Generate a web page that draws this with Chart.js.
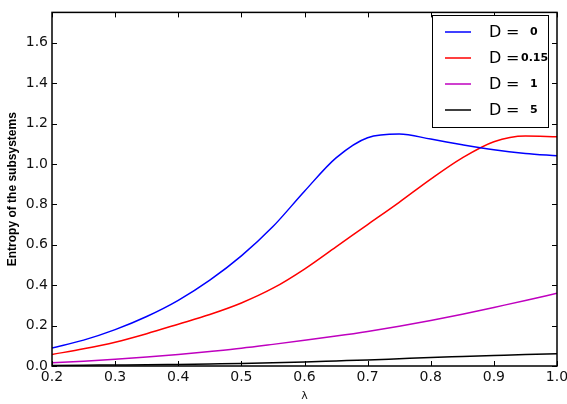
<!DOCTYPE html>
<html lang="en">
<head>
  <meta charset="UTF-8" />
  <title>Entropy of the subsystems</title>
  <script src="https://cdn.jsdelivr.net/npm/chart.js"></script>
  <style>
    body { margin: 0; background: white; }
    #wrap { width: 567px; height: 404px; }
  </style>
</head>
<body>
  <div id="wrap"><canvas id="chart"></canvas></div>

  <script>
    const lambdas = [0.2, 0.25, 0.3, 0.35, 0.4, 0.45, 0.5, 0.55, 0.6, 0.65, 0.7, 0.75, 0.8, 0.85, 0.9, 0.95, 1.0];
    const d0    = [0.089, 0.128, 0.18, 0.245, 0.325, 0.425, 0.545, 0.69, 0.865, 1.03, 1.13, 1.148, 1.123, 1.095, 1.07, 1.052, 1.04];
    const d015  = [0.057, 0.085, 0.118, 0.16, 0.207, 0.255, 0.312, 0.385, 0.48, 0.59, 0.70, 0.81, 0.925, 1.03, 1.11, 1.138, 1.135];
    const d1    = [0.016, 0.024, 0.033, 0.044, 0.057, 0.072, 0.088, 0.107, 0.127, 0.148, 0.171, 0.197, 0.225, 0.256, 0.29, 0.324, 0.36];
    const d5    = [0.003, 0.004, 0.005, 0.006, 0.008, 0.01, 0.012, 0.016, 0.02, 0.025, 0.03, 0.036, 0.042, 0.047, 0.052, 0.057, 0.061];
    const seriesNames = ['0', '0.15', '1', '5'];
    const seriesColors = ['#0000ff', '#ff0000', '#bf00bf', '#000000'];
    const xTicks = [0.2, 0.3, 0.4, 0.5, 0.6, 0.7, 0.8, 0.9, 1.0];
    const yTicks = [0.0, 0.2, 0.4, 0.6, 0.8, 1.0, 1.2, 1.4, 1.6];

    const tickFont = { family: 'DejaVu Sans', size: 14 };

    // matplotlib-like frame with inward ticks on all four sides
    const framePlugin = {
      id: 'frame',
      afterDatasetsDraw(chart) {
        const { ctx, chartArea: a, scales } = chart;
        ctx.save();
        ctx.strokeStyle = '#000';
        ctx.lineWidth = 1;
        const len = 5;
        ctx.beginPath();
        xTicks.forEach(v => {
          const px = Math.round(scales.x.getPixelForValue(v)) + 0.5;
          ctx.moveTo(px, a.bottom); ctx.lineTo(px, a.bottom - len);
          ctx.moveTo(px, a.top); ctx.lineTo(px, a.top + len);
        });
        yTicks.forEach(v => {
          const py = Math.round(scales.y.getPixelForValue(v)) + 0.5;
          ctx.moveTo(a.left, py); ctx.lineTo(a.left + len, py);
          ctx.moveTo(a.right, py); ctx.lineTo(a.right - len, py);
        });
        ctx.stroke();
        ctx.lineWidth = 1.5;
        ctx.strokeRect(a.left, a.top, a.right - a.left, a.bottom - a.top);
        ctx.restore();
      }
    };

    // legend box: large "D =" with small bold value
    const legendPlugin = {
      id: 'customLegend',
      afterDraw(chart) {
        const { ctx } = chart;
        const bx = 432, by = 15, bw = 116, bh = 112;
        ctx.save();
        ctx.fillStyle = '#fff';
        ctx.fillRect(bx, by, bw, bh);
        ctx.strokeStyle = '#000';
        ctx.lineWidth = 1;
        ctx.strokeRect(bx + 0.5, by + 0.5, bw, bh);
        chart.data.datasets.forEach((ds, i) => {
          const y = 32 + i * 26;
          ctx.strokeStyle = ds.borderColor;
          ctx.lineWidth = 1.5;
          ctx.beginPath();
          ctx.moveTo(445, y); ctx.lineTo(471, y);
          ctx.stroke();
          ctx.fillStyle = '#000';
          ctx.textBaseline = 'middle';
          ctx.textAlign = 'left';
          ctx.font = '16px "DejaVu Sans"';
          ctx.fillText('D', 489, y + 1);
          ctx.fillText('=', 506, y + 1);
          ctx.font = 'bold 11px "DejaVu Sans"';
          const name = seriesNames[i];
          ctx.fillText(name, name.length > 1 ? 521 : 530, y);
        });
        ctx.restore();
      }
    };

    new Chart(document.getElementById('chart'), {
      type: 'line',
      data: {
        datasets: [d0, d015, d1, d5].map((vals, i) => ({
          label: 'D = ' + seriesNames[i],
          data: lambdas.map((x, j) => ({ x: x, y: vals[j] })),
          borderColor: seriesColors[i],
          borderWidth: 1.5,
          pointRadius: 0,
          fill: false,
          cubicInterpolationMode: 'monotone'
        }))
      },
      options: {
        responsive: true,
        maintainAspectRatio: false,
        animation: false,
        layout: { padding: { top: 8, right: 10, left: 0, bottom: 0 } },
        plugins: {
          legend: { display: false },
          tooltip: { enabled: false }
        },
        scales: {
          x: {
            type: 'linear',
            min: 0.2,
            max: 1.0,
            afterFit(scale) {
              scale.height = 38;
              scale.paddingLeft = 0;
              scale.paddingRight = 0;
            },
            afterBuildTicks(scale) { scale.ticks = xTicks.map(v => ({ value: v })); },
            grid: { display: false, drawTicks: false },
            border: { display: false },
            ticks: {
              font: tickFont,
              color: '#111',
              padding: 3,
              maxRotation: 0,
              autoSkip: false,
              callback: v => v.toFixed(1)
            },
            title: {
              display: true,
              text: 'λ',
              font: { family: 'DejaVu Sans', size: 11 },
              color: '#111',
              padding: { top: 0, bottom: 1 }
            }
          },
          y: {
            min: 0,
            max: 1.75,
            afterFit(scale) { scale.width = 52; },
            afterBuildTicks(scale) { scale.ticks = yTicks.map(v => ({ value: v })); },
            grid: { display: false, drawTicks: false },
            border: { display: false },
            ticks: {
              font: tickFont,
              color: '#111',
              padding: 4,
              autoSkip: false,
              callback: v => v.toFixed(1)
            },
            title: {
              display: true,
              text: 'Entropy of the subsystems',
              font: { family: 'Liberation Sans', size: 12, weight: 'bold' },
              color: '#000',
              padding: { top: 5, bottom: 0 }
            }
          }
        }
      },
      plugins: [framePlugin, legendPlugin]
    });
  </script>
</body>
</html>
